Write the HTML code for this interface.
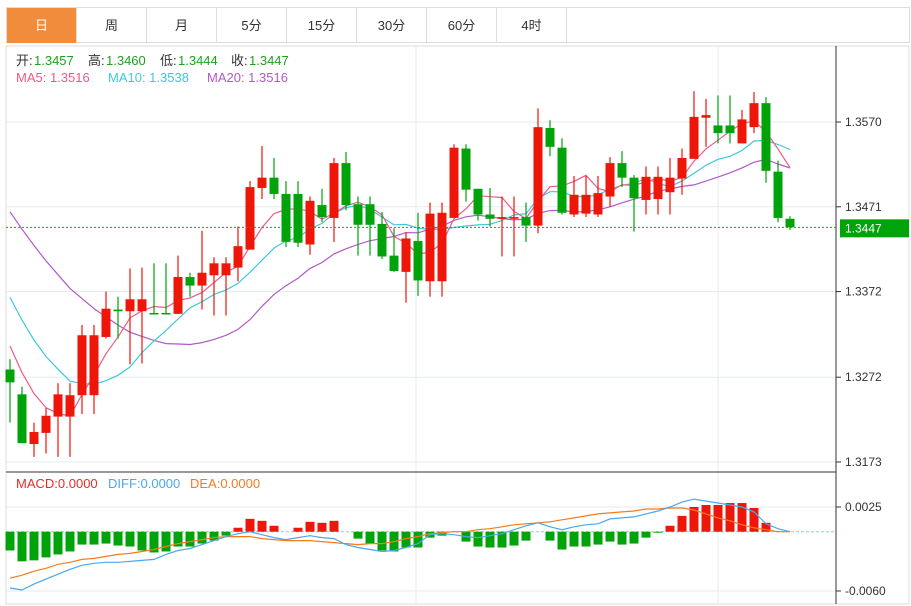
<!DOCTYPE html>
<html><head><meta charset="utf-8">
<style>
body{margin:0;background:#fff;width:911px;height:606px;overflow:hidden;font-family:"Liberation Sans","Noto Sans CJK SC",sans-serif;}
#tabs{position:absolute;left:6px;top:7px;height:36px;display:flex;border:1px solid #ddd;width:904px;box-sizing:border-box}
.tab{width:70px;height:35px;line-height:35px;text-align:center;font-size:13px;color:#333;border-right:1px solid #ddd;box-sizing:border-box}
.tab.on{background:#f08c3c;color:#fff}
svg{position:absolute;left:0;top:0}
</style></head><body>
<div id="tabs">
<div class="tab on">日</div>
<div class="tab">周</div>
<div class="tab">月</div>
<div class="tab">5分</div>
<div class="tab">15分</div>
<div class="tab">30分</div>
<div class="tab">60分</div>
<div class="tab">4时</div>
</div>
<svg id="chart" width="911" height="606" font-family="Liberation Sans, Noto Sans CJK SC, sans-serif"></svg>
<script>
const priorCloses=[1.3600,1.3590,1.3585,1.3575,1.3570,1.3560,1.3555,1.3545,1.3540,1.3530,1.3460,1.3440,1.3420,1.3400,1.3390,1.3350,1.3330,1.3310,1.3286];
const opens=[1.3281,1.3252,1.3194,1.3207,1.3226,1.3226,1.3251,1.3251,1.3319,1.3351,1.3349,1.3349,1.3347,1.3347,1.3346,1.3389,1.3379,1.3391,1.3391,1.3400,1.3421,1.3493,1.3505,1.3486,1.3486,1.3427,1.3473,1.3458,1.3522,1.3474,1.3474,1.3451,1.3414,1.3395,1.3431,1.3384,1.3384,1.3458,1.3539,1.3492,1.3462,1.3457,1.3457,1.3459,1.3449,1.3563,1.3540,1.3462,1.3463,1.3462,1.3483,1.3522,1.3505,1.3479,1.3480,1.3488,1.3504,1.3527,1.3575,1.3566,1.3566,1.3545,1.3564,1.3592,1.3512,1.3457];
const closes=[1.3266,1.3195,1.3208,1.3227,1.3252,1.3251,1.3321,1.3321,1.3352,1.3349,1.3363,1.3363,1.3346,1.3346,1.3389,1.3379,1.3394,1.3405,1.3405,1.3425,1.3494,1.3505,1.3486,1.3430,1.3429,1.3478,1.3459,1.3522,1.3473,1.3450,1.3450,1.3413,1.3396,1.3434,1.3385,1.3463,1.3464,1.3540,1.3491,1.3462,1.3457,1.3459,1.3459,1.3449,1.3564,1.3541,1.3464,1.3485,1.3485,1.3487,1.3522,1.3505,1.3481,1.3506,1.3506,1.3505,1.3528,1.3576,1.3578,1.3557,1.3557,1.3573,1.3592,1.3513,1.3458,1.3447];
const highs=[1.3293,1.3261,1.3219,1.3236,1.3265,1.3265,1.3333,1.3333,1.3372,1.3366,1.3399,1.3400,1.3405,1.3405,1.3414,1.3394,1.3443,1.3412,1.3412,1.3448,1.3501,1.3542,1.3528,1.3501,1.3501,1.3483,1.3492,1.3528,1.3535,1.3483,1.3483,1.3465,1.3446,1.3441,1.3464,1.3476,1.3476,1.3544,1.3544,1.3492,1.3493,1.3483,1.3483,1.3476,1.3586,1.3572,1.3551,1.3507,1.3507,1.3507,1.3529,1.3536,1.3508,1.3518,1.3518,1.3528,1.3539,1.3606,1.3597,1.3601,1.3601,1.3584,1.3605,1.3599,1.3525,1.3460];
const lows=[1.3219,1.3195,1.3179,1.3183,1.3179,1.3179,1.3229,1.3229,1.3317,1.3317,1.3287,1.3288,1.3346,1.3346,1.3346,1.3366,1.3351,1.3344,1.3344,1.3384,1.3421,1.3480,1.3480,1.3424,1.3424,1.3415,1.3453,1.3430,1.3467,1.3414,1.3414,1.3410,1.3395,1.3359,1.3367,1.3366,1.3366,1.3458,1.3477,1.3455,1.3448,1.3413,1.3413,1.3430,1.3440,1.3530,1.3462,1.3459,1.3459,1.3459,1.3471,1.3494,1.3442,1.3462,1.3462,1.3462,1.3485,1.3527,1.3541,1.3545,1.3545,1.3545,1.3557,1.3499,1.3453,1.3444];
const macdHist=[-0.0019,-0.0030,-0.0029,-0.0026,-0.0023,-0.0020,-0.0013,-0.0013,-0.0012,-0.0014,-0.0015,-0.0019,-0.0021,-0.0020,-0.0015,-0.0015,-0.0012,-0.0009,-0.0004,0.0004,0.0013,0.0011,0.0006,0.0000,0.0004,0.0010,0.0009,0.0011,0.0000,-0.0007,-0.0012,-0.0019,-0.0020,-0.0016,-0.0016,-0.0006,-0.0004,0.0000,-0.0010,-0.0015,-0.0016,-0.0016,-0.0014,-0.0009,0.0000,-0.0009,-0.0018,-0.0015,-0.0015,-0.0013,-0.0010,-0.0013,-0.0012,-0.0006,-0.0001,0.0006,0.0016,0.0025,0.0027,0.0027,0.0029,0.0029,0.0024,0.0009,0.0000,0.0000];
const difValues=[-0.0057,-0.0059,-0.0053,-0.0048,-0.0043,-0.0038,-0.0034,-0.0032,-0.0031,-0.0031,-0.0030,-0.0029,-0.0028,-0.0023,-0.0019,-0.0017,-0.0013,-0.0009,-0.0005,-0.0002,0.0000,-0.0003,-0.0006,-0.0008,-0.0006,-0.0004,-0.0006,-0.0007,-0.0013,-0.0016,-0.0018,-0.0020,-0.0019,-0.0016,-0.0012,-0.0003,-0.0002,-0.0003,-0.0005,-0.0006,-0.0004,-0.0002,0.0002,0.0006,0.0009,0.0005,0.0002,0.0005,0.0007,0.0008,0.0013,0.0014,0.0015,0.0018,0.0021,0.0025,0.0030,0.0033,0.0031,0.0029,0.0027,0.0025,0.0020,0.0008,0.0003,0.0000];
const deaValues=[-0.0047,-0.0044,-0.0040,-0.0037,-0.0033,-0.0031,-0.0028,-0.0027,-0.0025,-0.0023,-0.0022,-0.0020,-0.0018,-0.0015,-0.0012,-0.0010,-0.0008,-0.0006,-0.0005,-0.0005,-0.0005,-0.0007,-0.0008,-0.0009,-0.0009,-0.0009,-0.0010,-0.0011,-0.0012,-0.0013,-0.0012,-0.0012,-0.0010,-0.0007,-0.0005,-0.0002,-0.0001,0.0000,0.0000,0.0002,0.0003,0.0005,0.0007,0.0008,0.0009,0.0010,0.0012,0.0014,0.0016,0.0018,0.0019,0.0020,0.0021,0.0023,0.0023,0.0024,0.0024,0.0022,0.0018,0.0014,0.0011,0.0007,0.0004,0.0002,0.0000,0.0000];
const priceTicks=[1.3570,1.3471,1.3372,1.3272,1.3173];
const macdTicks=[0.0025,-0.0060];

const NS='http://www.w3.org/2000/svg';
const svg=document.getElementById('chart');
function el(tag,attrs,parent){const e=document.createElementNS(NS,tag);for(const k in attrs)e.setAttribute(k,attrs[k]);(parent||svg).appendChild(e);return e;}
const yP=p=>462-(p-1.3173)/(1.3570-1.3173)*340;
const yM=v=>591-(v+0.0060)/(0.0085)*84;
const xI=i=>10+12*i;
const RED='#ee1509',GREEN='#00a30a';

let f=el('rect',{x:6,y:46,width:903,height:558,fill:'none',stroke:'#ddd'});

[416,718].forEach(x=>{const l=el('line',{x1:x,y1:46,x2:x,y2:604,stroke:'#e3ebf2'});});
priceTicks.forEach(t=>{const y=yP(t);
 const g=el('line',{x1:6,y1:y,x2:836,y2:y,stroke:'#e3ebf2'});
 el('line',{x1:836,y1:y,x2:841,y2:y,stroke:'#333'});
 const tx=el('text',{x:845,y:y+4,'font-size':12,fill:'#333'});tx.textContent=t.toFixed(4);});
macdTicks.forEach(t=>{const y=yM(t);
 const g=el('line',{x1:6,y1:y,x2:836,y2:y,stroke:'#e3ebf2'});
 el('line',{x1:836,y1:y,x2:841,y2:y,stroke:'#333'});
 const tx=el('text',{x:845,y:y+4,'font-size':12,fill:'#333'});tx.textContent=t.toFixed(4);});
let sep=el('line',{x1:6,y1:472,x2:836,y2:472,stroke:'#333'});
let ax=el('line',{x1:836,y1:46,x2:836,y2:604,stroke:'#333'});

const all=priorCloses.concat(closes);const off=priorCloses.length;
function ma(n){return closes.map((c,i)=>{let s=0;for(let k=0;k<n;k++)s+=all[off+i-k];return s/n;});}
[[20,'#b259c9','ma20-line'],[10,'#3ec8dc','ma10-line'],[5,'#ee5a86','ma5-line']].forEach(([n,c,name])=>{
 const m=ma(n);const pl=el('polyline',{points:m.map((v,i)=>xI(i)+','+yP(v).toFixed(1)).join(' '),fill:'none',stroke:c,'stroke-width':1.2});
 });

closes.forEach((c,i)=>{const o=opens[i];const up=c>=o;const col=up?RED:GREEN;const x=xI(i);
 const g=el('g',{});
 el('line',{x1:x,y1:yP(highs[i]),x2:x,y2:yP(lows[i]),stroke:col,'stroke-width':1.2},g);
 const t=yP(Math.max(o,c)),b=yP(Math.min(o,c));
 el('rect',{x:x-4.5,y:t,width:9,height:Math.max(1.5,b-t),fill:col},g);});

const ly=yP(closes[closes.length-1]);
let lp=el('line',{x1:6,y1:ly,x2:836,y2:ly,stroke:'#1aa31a','stroke-dasharray':'2,2'});
let lb=el('rect',{x:840,y:ly-8,width:69,height:18,fill:'#00a30a'});
let lt=el('text',{x:845,y:ly+5,'font-size':12,fill:'#fff'});lt.textContent=closes[closes.length-1].toFixed(4);

const z=yM(0);
let zl=el('line',{x1:6,y1:z,x2:836,y2:z,stroke:'#8cc8e8','stroke-dasharray':'3,2'});
macdHist.forEach((v,i)=>{if(Math.abs(v)<0.00005)return;const y=yM(v);
 const r=el('rect',{x:xI(i)-4.5,y:Math.min(y,z),width:9,height:Math.abs(y-z),fill:v>0?RED:GREEN});
 });
let dea=el('polyline',{points:deaValues.map((v,i)=>xI(i)+','+yM(v).toFixed(1)).join(' '),fill:'none',stroke:'#f57b1f','stroke-width':1.2});

let dif=el('polyline',{points:difValues.map((v,i)=>xI(i)+','+yM(v).toFixed(1)).join(' '),fill:'none',stroke:'#4aa8f0','stroke-width':1.2});


function txt(x,y,s,c,name){const t=el('text',{x:x,y:y,'font-size':13,fill:c});t.textContent=s;return t;}
txt(16,65,'开:','#333','open-label');txt(34,65,'1.3457','#1aa31a','open-value');
txt(88,65,'高:','#333','high-label');txt(106,65,'1.3460','#1aa31a','high-value');
txt(160,65,'低:','#333','low-label');txt(178,65,'1.3444','#1aa31a','low-value');
txt(231,65,'收:','#333','close-label');txt(249,65,'1.3447','#1aa31a','close-value');
txt(16,82,'MA5: 1.3516','#ee5a86','ma5-legend');
txt(108,82,'MA10: 1.3538','#3ec8dc','ma10-legend');
txt(207,82,'MA20: 1.3516','#b259c9','ma20-legend');
txt(16,488,'MACD:0.0000','#ee2a2a','macd-legend');
txt(108,488,'DIFF:0.0000','#4aa8f0','diff-legend');
txt(190,488,'DEA:0.0000','#f57b1f','dea-legend');
</script>
</body></html>
